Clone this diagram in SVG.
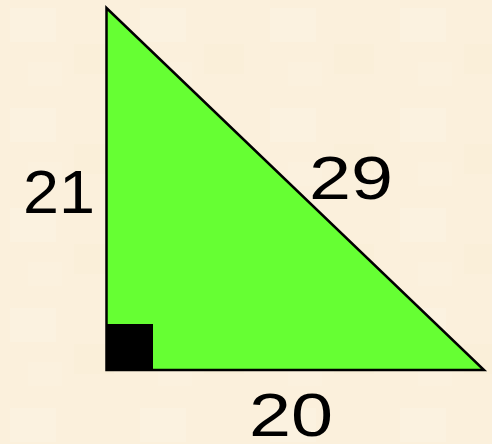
<svg xmlns="http://www.w3.org/2000/svg" width="492" height="444" viewBox="0 0 492 444">
  <style>
    .lbl { font-family: "Liberation Sans", Arial, sans-serif; font-size: 61px; fill: #000; }
  </style>
  <defs>
    <pattern id="paper" width="130" height="100" patternUnits="userSpaceOnUse">
      <rect width="130" height="100" fill="#FBF0DC"/>
      <rect x="10" y="8" width="46" height="34" fill="#FCF3E2" opacity="0.6"/>
      <rect x="74" y="44" width="40" height="30" fill="#F9EDD6" opacity="0.5"/>
      <rect x="28" y="62" width="34" height="24" fill="#FCF2E0" opacity="0.6"/>
    </pattern>
  </defs>
  <rect id="background" width="492" height="444" fill="url(#paper)"/>
  <g id="triangle">
    <polygon points="106.5,8 106.5,370 484,370" fill="#66FF33" stroke="#000" stroke-width="2.5" stroke-linejoin="miter"/>
  </g>
  <g id="right-angle">
    <rect x="106" y="324" width="47" height="47" fill="#000"/>
  </g>
  <g id="label-21">
    <text class="lbl" x="23" y="213" textLength="72" lengthAdjust="spacingAndGlyphs">21</text>
  </g>
  <g id="label-29">
    <text class="lbl" x="309" y="199" textLength="84" lengthAdjust="spacingAndGlyphs">29</text>
  </g>
  <g id="label-20">
    <text class="lbl" x="249" y="436" textLength="84" lengthAdjust="spacingAndGlyphs">20</text>
  </g>
</svg>
